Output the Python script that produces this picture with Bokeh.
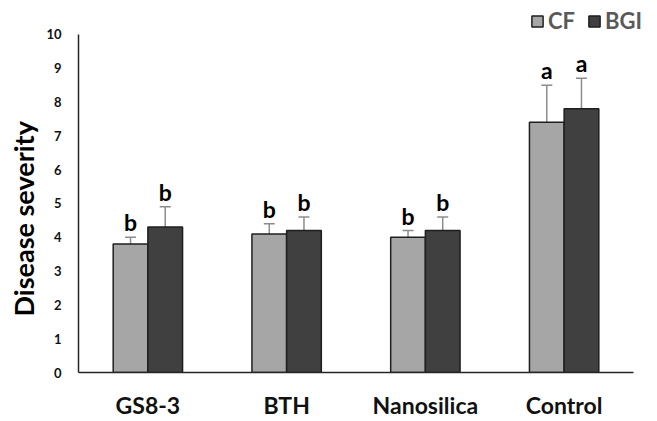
from bokeh.plotting import figure
from bokeh.models import (Whisker, TeeHead, ColumnDataSource, FixedTicker, Legend, LegendItem, Title)
from bokeh.core.properties import value
from bokeh.embed import file_html
from bokeh.resources import INLINE

categories = ["GS8-3", "BTH", "Nanosilica", "Control"]
cf_values = [3.8, 4.1, 4.0, 7.4]
bgi_values = [4.3, 4.2, 4.2, 7.8]
cf_errors = [0.2, 0.3, 0.2, 1.1]
bgi_errors = [0.6, 0.4, 0.4, 0.9]
cf_letters = ["b", "b", "b", "a"]
bgi_letters = ["b", "b", "b", "a"]
y_ticks = list(range(0, 11))

FONT = "Lato"
OFF = 0.125
pos = [i + 0.5 for i in range(len(categories))]

src = ColumnDataSource(dict(
    x_cf=[c - OFF for c in pos], x_bgi=[c + OFF for c in pos],
    cf=cf_values, bgi=bgi_values,
    cf_top=[v + e for v, e in zip(cf_values, cf_errors)],
    bgi_top=[v + e for v, e in zip(bgi_values, bgi_errors)],
    cf_let=cf_letters, bgi_let=bgi_letters,
))

W, H = 657, 421
LEFT, BOTTOM, TOP = 78, 48, 2
px_per_cat = 138.75
px_per_unit = 33.9
p = figure(width=W, height=H, output_backend="svg", toolbar_location=None,
           x_range=(0, (W - LEFT) / px_per_cat),
           y_range=(0, (H - TOP - BOTTOM) / px_per_unit),
           min_border_left=LEFT, min_border_right=0, min_border_top=TOP,
           min_border_bottom=BOTTOM)
p.outline_line_color = None
p.xgrid.visible = False
p.ygrid.visible = False

r_cf = p.vbar(x="x_cf", top="cf", width=0.25, source=src,
              fill_color="#A6A6A6", line_color="#1f1f1f", line_width=1.5)
r_bgi = p.vbar(x="x_bgi", top="bgi", width=0.25, source=src,
               fill_color="#404040", line_color="#1f1f1f", line_width=1.5)

for xk, key, top in (("x_cf", "cf", "cf_top"), ("x_bgi", "bgi", "bgi_top")):
    w = Whisker(base=xk, lower=key, upper=top, source=src,
                line_color="#8c8c8c", line_width=1.5, lower_head=None,
                upper_head=TeeHead(size=11, line_color="#8c8c8c", line_width=1.5),
                level="underlay")
    p.add_layout(w)

for xk, top, lab in (("x_cf", "cf_top", "cf_let"), ("x_bgi", "bgi_top", "bgi_let")):
    p.text(x=xk, y=top, text=lab, source=src,
           y_offset=-15, text_align="center", text_baseline="alphabetic",
           text_font=value(FONT), text_font_style="bold", text_font_size="23px",
           text_color="#000000")

p.yaxis.ticker = FixedTicker(ticks=y_ticks)
p.yaxis.bounds = (y_ticks[0], y_ticks[-1])
p.xaxis.ticker = FixedTicker(ticks=pos)
p.xaxis.major_label_overrides = {c: lab for c, lab in zip(pos, categories)}
p.xaxis.bounds = (0, len(categories))
for ax in (p.xaxis, p.yaxis):
    ax.axis_line_color = "#262626"
    ax.axis_line_width = 1.5
    ax.major_tick_line_color = None
    ax.minor_tick_line_color = None
    ax.major_tick_out = 0
    ax.major_tick_in = 0
    ax.minor_tick_out = 0
    ax.major_label_text_font = FONT
    ax.major_label_text_font_style = "bold"
    ax.major_label_text_color = "#111111"
p.yaxis.major_label_text_font_size = "13px"
p.yaxis.major_label_standoff = 17
p.xaxis.major_label_text_font_size = "23px"
p.xaxis.major_label_standoff = 18

p.add_layout(Title(text="Disease severity", align="left", offset=56,
                   text_font=FONT, text_font_style="bold", text_font_size="27px",
                   text_color="#000000", standoff=8), "left")

legend = Legend(items=[LegendItem(label="CF", renderers=[r_cf]),
                       LegendItem(label="BGI", renderers=[r_bgi])],
                orientation="horizontal", location=(452, 338),
                glyph_width=14, glyph_height=14, label_standoff=4, spacing=12,
                padding=0, margin=0, border_line_color=None, background_fill_alpha=0,
                label_text_font=FONT, label_text_font_style="bold",
                label_text_font_size="22px", label_text_color="#595959")
p.add_layout(legend)

open("out.html", "w").write(file_html(p, INLINE))
